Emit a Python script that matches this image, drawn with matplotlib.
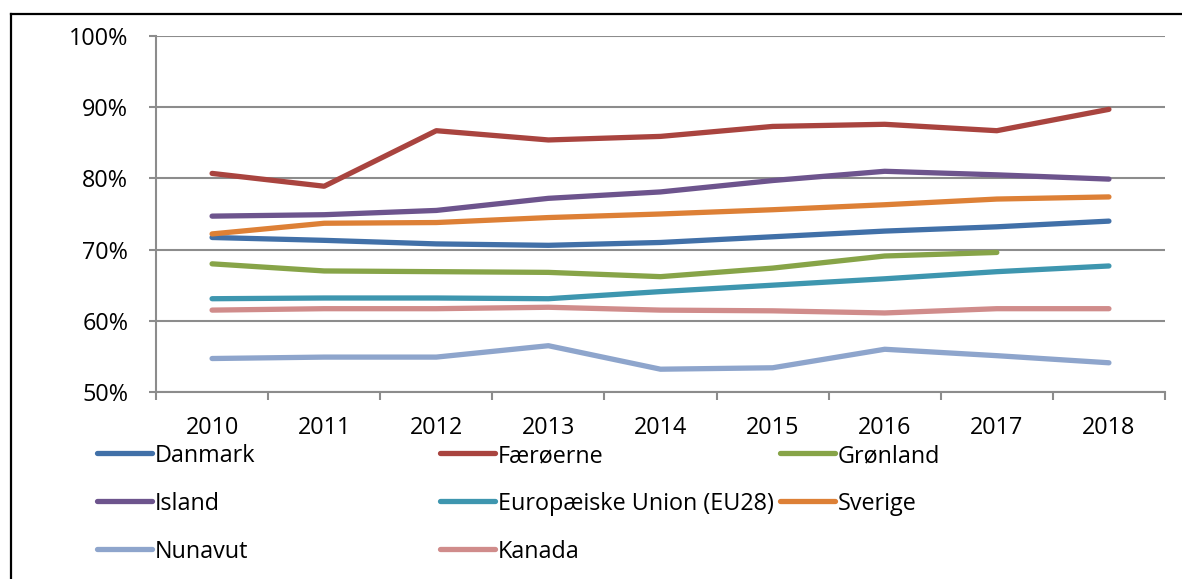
import matplotlib.pyplot as plt
from matplotlib.lines import Line2D
from matplotlib.ticker import FuncFormatter

# ------------------------------------
#   data (share in %)
# ------------------------------------
years = ['2010', '2011', '2012', '2013', '2014', '2015', '2016', '2017', '2018']

danmark = [71.7, 71.3, 70.8, 70.6, 71.0, 71.8, 72.6, 73.2, 74.0]
faeroerne = [80.7, 78.9, 86.7, 85.4, 85.9, 87.3, 87.6, 86.7, 89.7]
groenland = [68.0, 67.0, 66.9, 66.8, 66.2, 67.4, 69.1, 69.6, None]
island = [74.7, 74.9, 75.5, 77.2, 78.1, 79.7, 81.0, 80.5, 79.9]
eu28 = [63.1, 63.2, 63.2, 63.1, 64.1, 65.0, 65.9, 66.9, 67.7]
sverige = [72.2, 73.7, 73.8, 74.5, 75.0, 75.6, 76.3, 77.1, 77.4]
nunavut = [54.7, 54.9, 54.9, 56.5, 53.2, 53.4, 56.0, 55.1, 54.1]
kanada = [61.5, 61.7, 61.7, 61.9, 61.5, 61.4, 61.1, 61.7, 61.7]

series = [
    ('Danmark', danmark, '#4170a8'),
    ('Færøerne', faeroerne, '#a9443f'),
    ('Grønland', groenland, '#87a448'),
    ('Island', island, '#6d548d'),
    ('Europæiske Union (EU28)', eu28, '#3e96af'),
    ('Sverige', sverige, '#dd8036'),
    ('Nunavut', nunavut, '#8ea5cc'),
    ('Kanada', kanada, '#d08c8b'),
]

plt.rcParams['font.family'] = ['Open Sans', 'DejaVu Sans']
grid_col = '#8c8c8c'
fs = 16.8

fig = plt.figure(figsize=(11.82, 5.79), dpi=100)
ax = fig.add_axes([0.132, 0.323, 0.8536, 0.6148])

x = list(range(len(years)))
for name, vals, col in series:
    xs = [i for i, v in zip(x, vals) if v is not None]
    ys = [v for v in vals if v is not None]
    ax.plot(xs, ys, color=col, lw=3.8, solid_capstyle='round',
            solid_joinstyle='round', label=name)

ax.set_xlim(-0.5, len(years) - 0.5)
ax.set_ylim(50, 100)
ax.set_yticks(range(50, 101, 10))
ax.yaxis.set_major_formatter(FuncFormatter(lambda v, p: '%d%%' % v))
ax.set_xticks(x)
ax.set_xticklabels(years)
ax.set_xticks([i - 0.5 for i in range(len(years) + 1)], minor=True)

ax.grid(axis='y', color=grid_col, lw=1.5)
ax.set_axisbelow(True)
for s in ['top', 'right']:
    ax.spines[s].set_visible(False)
for s in ['left', 'bottom']:
    ax.spines[s].set_color(grid_col)
    ax.spines[s].set_linewidth(1.5)

ax.tick_params(axis='x', which='major', length=0, pad=17, labelsize=fs)
ax.tick_params(axis='x', which='minor', length=6, width=1.5, color=grid_col)
ax.tick_params(axis='y', length=5, width=1.5, color=grid_col, pad=15, labelsize=fs)

# legend: fixed-width columns, row by row (as in the Excel original)
order = ['Danmark', 'Færøerne', 'Grønland',
         'Island', 'Europæiske Union (EU28)', 'Sverige',
         'Nunavut', 'Kanada']
colors = {name: col for name, vals, col in series}
W, H = fig.get_size_inches() * fig.dpi
col_px = [97, 440, 780]
row_px = [453, 501, 549]
key_len = 55
for k, name in enumerate(order):
    x0 = col_px[k % 3]
    y0 = row_px[k // 3]
    yf = 1 - y0 / H
    fig.add_artist(Line2D([x0 / W, (x0 + key_len) / W], [yf, yf], color=colors[name],
                          lw=3.8, solid_capstyle='round', transform=fig.transFigure))
    fig.text((x0 + key_len + 3) / W, yf, name, fontsize=fs, va='center_baseline', ha='left')

# outer frame: only top and left edges are visible in the crop
fig.add_artist(Line2D([10.5 / W, 1.0], [1 - 14 / H, 1 - 14 / H], color='black',
                      lw=1.6, transform=fig.transFigure))
fig.add_artist(Line2D([10.5 / W, 10.5 / W], [0, 1 - 14 / H], color='black',
                      lw=1.6, transform=fig.transFigure))

fig.savefig('out.png', dpi=100)
